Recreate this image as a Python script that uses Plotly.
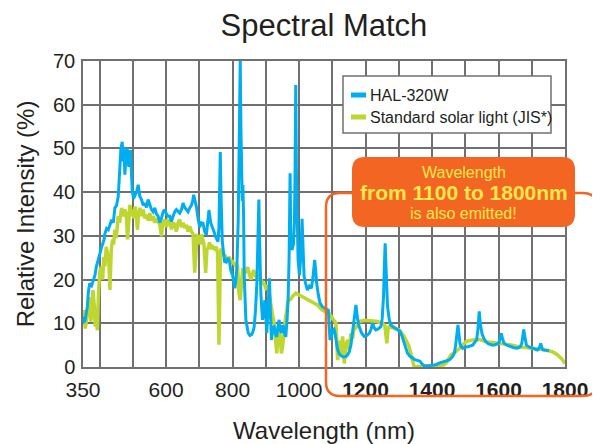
import plotly.graph_objects as go

# ---------------- data ----------------
hal_nm = [350, 353, 356, 363, 366, 370, 376, 380, 386, 390, 400, 407, 413, 416, 421, 426, 431, 436, 441, 446,
          451, 456, 461, 464, 468, 471, 473, 476, 478, 481, 483, 486, 488, 491, 493, 496, 498, 502, 506, 511,
          516, 521, 526, 531, 536, 541, 546, 551, 556, 561, 566, 571, 576, 581, 586, 591, 596, 601, 606, 611,
          616, 621, 626, 631, 636, 641, 646, 651, 656, 661, 666, 671, 676, 680, 683, 687, 691, 696, 701, 706,
          711, 716, 721, 725, 729, 734, 739, 744, 749, 753, 756, 759, 761, 763, 765, 767, 769, 773, 776, 781,
          786, 791, 795, 800, 803, 807, 810, 813, 817, 819, 821, 823, 825, 827, 829, 831, 833, 835, 840, 847,
          852, 857, 861, 865, 869, 873, 877, 879, 881, 885, 890, 893, 897, 903, 907, 911, 914, 917, 921, 925,
          929, 933, 936, 940, 943, 947, 950, 953, 957, 960, 964, 967, 970, 973, 975, 979, 983, 986, 988, 990,
          992, 995, 997, 1001, 1005, 1009, 1011, 1015, 1020, 1025, 1031, 1037, 1041, 1044, 1047, 1050, 1053, 1058, 1063, 1070,
          1078, 1088, 1093, 1097, 1101, 1105, 1108, 1112, 1116, 1121, 1126, 1133, 1141, 1146, 1151, 1156, 1161, 1166, 1171, 1176,
          1181, 1188, 1196, 1204, 1211, 1216, 1221, 1226, 1231, 1238, 1246, 1250, 1254, 1257, 1259, 1261, 1263, 1266, 1271, 1276,
          1283, 1291, 1297, 1304, 1310, 1316, 1321, 1326, 1333, 1341, 1348, 1356, 1364, 1370, 1376, 1391, 1401, 1411, 1421, 1432,
          1442, 1452, 1460, 1467, 1471, 1474, 1478, 1481, 1484, 1488, 1492, 1500, 1507, 1515, 1522, 1528, 1534, 1538, 1542, 1545,
          1548, 1550, 1556, 1562, 1570, 1582, 1590, 1600, 1604, 1608, 1612, 1617, 1625, 1637, 1647, 1657, 1665, 1670, 1673, 1676,
          1679, 1684, 1692, 1702, 1710, 1717, 1722, 1727, 1730, 1734, 1743, 1752]
hal_val = [11.5, 10.4, 10.6, 13.8, 17, 19.1, 18.6, 19.5, 21, 22.9, 26, 27.7, 29, 30.5, 31.7, 31.4, 32.5, 33.7, 33, 36.4,
           37, 39, 45.8, 50, 51.5, 47, 50.4, 44, 46.6, 49.5, 50, 47, 45.8, 48, 49.6, 44, 40.5, 38.5, 39.4, 40,
           41.7, 39, 38.3, 37, 37.5, 36.5, 38.3, 37, 36, 35.5, 36.4, 35, 34.5, 33, 34, 35.5, 36, 35, 34.5, 34.5,
           33.3, 34.5, 35.5, 36, 35.5, 35.2, 36, 37.5, 36.5, 36, 35.5, 36.4, 37, 38, 39.4, 38, 36.7, 34, 32, 33,
           32.9, 31, 30.2, 33, 35.9, 33, 31.7, 31, 29.8, 29, 28.7, 32, 45, 49.2, 40, 30, 28.7, 26, 24.1, 24,
           25, 24, 22, 21, 19.2, 18, 20, 22.9, 33.6, 45, 60, 70, 55, 40.9, 38, 41.6, 35, 20.8, 10.8, 7.8,
           7.2, 7.4, 8, 9.2, 13, 19.1, 30, 38.3, 30, 16.9, 10.8, 12, 15.3, 7.8, 14, 20.3, 12, 6.2, 9, 9.2,
           7.5, 6.9, 9, 10.8, 8.5, 7.8, 9.5, 9.2, 7.5, 6.9, 11, 15.3, 25, 44.3, 30, 26.8, 28, 33.2, 45, 64.5,
           45, 31.7, 24.5, 21, 25, 33.9, 30, 20.8, 19, 17.6, 18.5, 18, 20, 22, 24.5, 22, 19.1, 16.5, 14.6, 13.8,
           13.5, 13, 6.2, 7, 8.5, 8.7, 7.7, 5.5, 4, 3, 2.6, 2.3, 2.4, 2.8, 3.5, 5, 7.7, 10.5, 14.2, 11,
           9.2, 7.8, 7, 7.2, 7.7, 8.5, 10, 9, 8.5, 8.7, 9.2, 11, 16, 24, 28.3, 24, 18, 14, 11, 9.6,
           9.2, 8.8, 8.5, 8.1, 7, 5.4, 4, 3.2, 2.5, 2, 1.7, 1.5, 1.3, 0.7, 0.3, 0.3, 0.4, 0.5, 0.9, 1.2,
           1.4, 1.6, 2.2, 3.1, 5, 6.9, 9.6, 7.5, 5.4, 4.6, 4.3, 4.5, 4.6, 4.8, 5, 5.5, 6.2, 8.5, 12.7, 10,
           8.5, 7.7, 6.5, 5.8, 5.3, 5, 5.1, 5.4, 6.2, 7.7, 6.5, 5.4, 5, 4.6, 4.4, 4.3, 4.6, 5.4, 7, 8.6,
           7, 5, 4.6, 4.3, 4.1, 3.9, 4.2, 5.4, 4.5, 3.9, 3.8, 3.7]

jis_nm = [350, 353, 357, 361, 365, 369, 373, 377, 380, 384, 387, 390, 393, 397, 401, 405, 409, 413, 416, 420,
          424, 428, 431, 435, 439, 442, 446, 450, 456, 460, 466, 470, 476, 480, 484, 488, 491, 495, 499, 503,
          506, 510, 514, 517, 521, 526, 531, 536, 541, 546, 551, 556, 561, 566, 571, 576, 581, 586, 590, 596,
          601, 606, 611, 616, 621, 626, 631, 636, 641, 646, 651, 656, 661, 666, 671, 676, 681, 686, 690, 693,
          696, 700, 703, 706, 710, 714, 719, 723, 726, 731, 736, 741, 746, 751, 755, 759, 763, 765, 770, 776,
          781, 786, 790, 796, 800, 806, 811, 815, 819, 823, 826, 830, 836, 841, 845, 850, 855, 859, 863, 868,
          872, 876, 880, 885, 890, 895, 900, 907, 911, 915, 920, 925, 929, 933, 936, 940, 944, 947, 951, 955,
          959, 963, 966, 970, 975, 980, 985, 990, 995, 1000, 1015, 1035, 1055, 1070, 1091, 1101, 1111, 1116, 1121, 1126,
          1131, 1136, 1141, 1146, 1151, 1156, 1161, 1166, 1171, 1181, 1196, 1216, 1236, 1251, 1258, 1264, 1268, 1271, 1286, 1301,
          1316, 1331, 1341, 1346, 1376, 1406, 1412, 1436, 1442, 1457, 1472, 1487, 1502, 1522, 1542, 1562, 1582, 1602, 1622, 1642,
          1662, 1682, 1702, 1722, 1742, 1762, 1777, 1792, 1800]
jis_val = [10.7, 13, 8.8, 12.5, 13.8, 16, 10.4, 12, 17.6, 14, 9.2, 12, 8.4, 17.6, 22, 22.9, 20, 25.2, 23, 27.5,
           25.5, 24, 17.6, 26.8, 29.2, 28, 31.4, 29.5, 34.5, 33, 36.4, 34.5, 36, 35, 29.2, 35, 37.1, 34.5, 36, 34,
           36.7, 35, 31.4, 35, 36.4, 34.5, 36, 34, 34.8, 33.5, 35.2, 33.5, 34.5, 33, 34, 33.3, 32.5, 29.9, 33, 33.7,
           32, 33.5, 33.3, 31.5, 33, 32.6, 31, 33, 33.7, 32, 33, 31.8, 32.5, 31, 32.2, 31, 30.5, 21.6, 27, 30,
           29.9, 29.5, 28, 30.3, 29.4, 28, 21.5, 27, 27.1, 28.5, 27, 27.5, 27, 27.5, 26, 5.1, 24, 27.1, 26, 25.6,
           25, 24.5, 25.2, 24, 24.1, 23.3, 23, 22.9, 17, 15.3, 20, 22.2, 22, 21.5, 22.9, 21.5, 20, 21, 22.2, 21,
           20.5, 20, 21, 20, 19.2, 19.1, 18, 18.4, 16, 14.6, 12, 10, 6, 3.1, 6.6, 10, 6, 3.1, 5, 9.2,
           11, 13, 15, 15.3, 15.5, 16.1, 16.5, 16.9, 16.7, 16.5, 15.7, 15, 14.2, 13, 12.2, 11.1, 10, 1.6, 6, 3,
           7, 0.8, 5, 6.2, 4, 7.7, 6.5, 9.2, 9, 10.4, 10.7, 10.6, 10.4, 10, 9.5, 5.4, 9, 9.2, 8.8, 8.5,
           7, 4.7, 1.6, 0.1, 0.1, 0.1, 0.3, 0.5, 0.9, 2.8, 3.5, 4.6, 5.8, 6.2, 6.3, 5.8, 5.6, 5.4, 5.3, 5,
           4.6, 4.5, 4.3, 4.1, 3.9, 3.5, 2.8, 1.7, 0.8]

x_tick_vals = [350, 600, 800, 1000, 1200, 1400, 1600, 1800]
x_tick_text = ["350", "600", "800", "1000", "<b>1200</b>", "<b>1400</b>", "<b>1600</b>", "<b>1800</b>"]
series_names = ["HAL-320W", "Standard solar light (JIS*)"]
callout_lines = ["Wavelength", "<b>from 1100 to 1800nm</b>", "is also emitted!"]

# ---------------- styling ----------------
BLUE = "#00AEEF"
GREEN = "#BED62F"
ORANGE = "#F26522"
YELLOW = "#FFE74C"
GRID = "#707070"
TEXT = "#231F20"
FONT = "Liberation Sans, Arial, sans-serif"

OFF = 8                      # page body margin in the browser
W, H = 600 - OFF, 444 - OFF
PL, PR, PT, PB = 83, 565, 61, 367   # plot area in window pixels
L, T = PL - OFF, PT - OFF
R = W - (PR - OFF)
B = H - (PB - OFF)
PW, PH = PR - PL, PB - PT


def px(x):
    return (x - PL) / PW


def py(y):
    return (PB - y) / PH


def rounded_path(x0, y0, x1, y1, r):
    pts = [
        ("M", (x0 + r, y0)), ("L", (x1 - r, y0)), ("Q", (x1, y0), (x1, y0 + r)),
        ("L", (x1, y1 - r)), ("Q", (x1, y1), (x1 - r, y1)),
        ("L", (x0 + r, y1)), ("Q", (x0, y1), (x0, y1 - r)),
        ("L", (x0, y0 + r)), ("Q", (x0, y0), (x0 + r, y0)),
    ]
    s = ""
    for p in pts:
        coords = " ".join(f"{px(a):.5f},{py(b):.5f}" for a, b in p[1:])
        s += f"{p[0]} {coords} "
    return s + "Z"


fig = go.Figure()
fig.add_trace(go.Scatter(x=jis_nm, y=jis_val, mode="lines", name=series_names[1],
                         line=dict(color=GREEN, width=3.5), showlegend=False))
fig.add_trace(go.Scatter(x=hal_nm, y=hal_val, mode="lines", name=series_names[0],
                         line=dict(color=BLUE, width=3), showlegend=False))

shapes = []
shapes.append(dict(type="path", xref="paper", yref="paper", layer="above",
                   path=rounded_path(326, 193, 597, 396, 14),
                   line=dict(color=ORANGE, width=2.5), fillcolor="rgba(0,0,0,0)"))
shapes.append(dict(type="path", xref="paper", yref="paper", layer="above",
                   path=rounded_path(352, 157, 575, 227, 13),
                   line=dict(width=0), fillcolor=ORANGE))
shapes.append(dict(type="rect", xref="paper", yref="paper", layer="above",
                   x0=px(343), x1=px(551), y0=py(133), y1=py(76),
                   line=dict(color=GRID, width=1.5), fillcolor="white"))
shapes.append(dict(type="rect", xref="paper", yref="paper", layer="above",
                   x0=px(351), x1=px(366), y0=py(97.5), y1=py(92.5),
                   line=dict(width=0), fillcolor=BLUE))
shapes.append(dict(type="rect", xref="paper", yref="paper", layer="above",
                   x0=px(351), x1=px(366), y0=py(119.5), y1=py(114.5),
                   line=dict(width=0), fillcolor=GREEN))

annotations = []
for name, yy in zip(series_names, [95, 117]):
    annotations.append(dict(xref="paper", yref="paper", x=px(367.5), y=py(yy), text=name,
                            showarrow=False, xanchor="left", yanchor="middle",
                            font=dict(family=FONT, size=16, color=TEXT)))
for txt, yy, sz in zip(callout_lines, [172, 192.5, 213], [16, 21, 16]):
    annotations.append(dict(xref="paper", yref="paper", x=px(463.5), y=py(yy), text=txt,
                            showarrow=False, xanchor="center", yanchor="middle",
                            font=dict(family=FONT, size=sz, color=YELLOW)))

fig.update_layout(
    width=W, height=H,
    margin=dict(l=L, r=R, t=T, b=B, autoexpand=False),
    paper_bgcolor="white", plot_bgcolor="white",
    title=dict(text="Spectral Match", x=px(324), xref="paper", xanchor="center",
               y=1 - (25 - OFF) / H, yanchor="middle",
               font=dict(family=FONT, size=31, color=TEXT)),
    font=dict(family=FONT, color=TEXT),
    showlegend=False,
    shapes=shapes,
    annotations=annotations,
    hovermode=False,
)
fig.update_xaxes(
    range=[350, 1800], tickvals=x_tick_vals, ticktext=x_tick_text,
    showgrid=True, gridcolor=GRID, gridwidth=1.5,
    minor=dict(tick0=400, dtick=100, showgrid=True, gridcolor=GRID, gridwidth=1.5, ticklen=0),
    showline=True, linecolor=GRID, linewidth=1.5, mirror=True,
    ticks="", ticklen=0, ticklabelstandoff=3,
    tickfont=dict(family=FONT, size=21, color=TEXT),
    zeroline=False,
    title=dict(text="Wavelength (nm)", font=dict(family=FONT, size=24, color=TEXT), standoff=30),
)
fig.update_yaxes(
    range=[0, 70], dtick=10, tick0=0,
    showgrid=True, gridcolor=GRID, gridwidth=1.5,
    showline=True, linecolor=GRID, linewidth=1.5, mirror=True,
    ticks="", ticklen=0, ticklabelstandoff=2,
    tickfont=dict(family=FONT, size=20, color=TEXT),
    zeroline=False,
    title=dict(text="Relative Intensity (%)", font=dict(family=FONT, size=24, color=TEXT), standoff=12),
)

fig.write_html("out.html", config={"displayModeBar": False})
